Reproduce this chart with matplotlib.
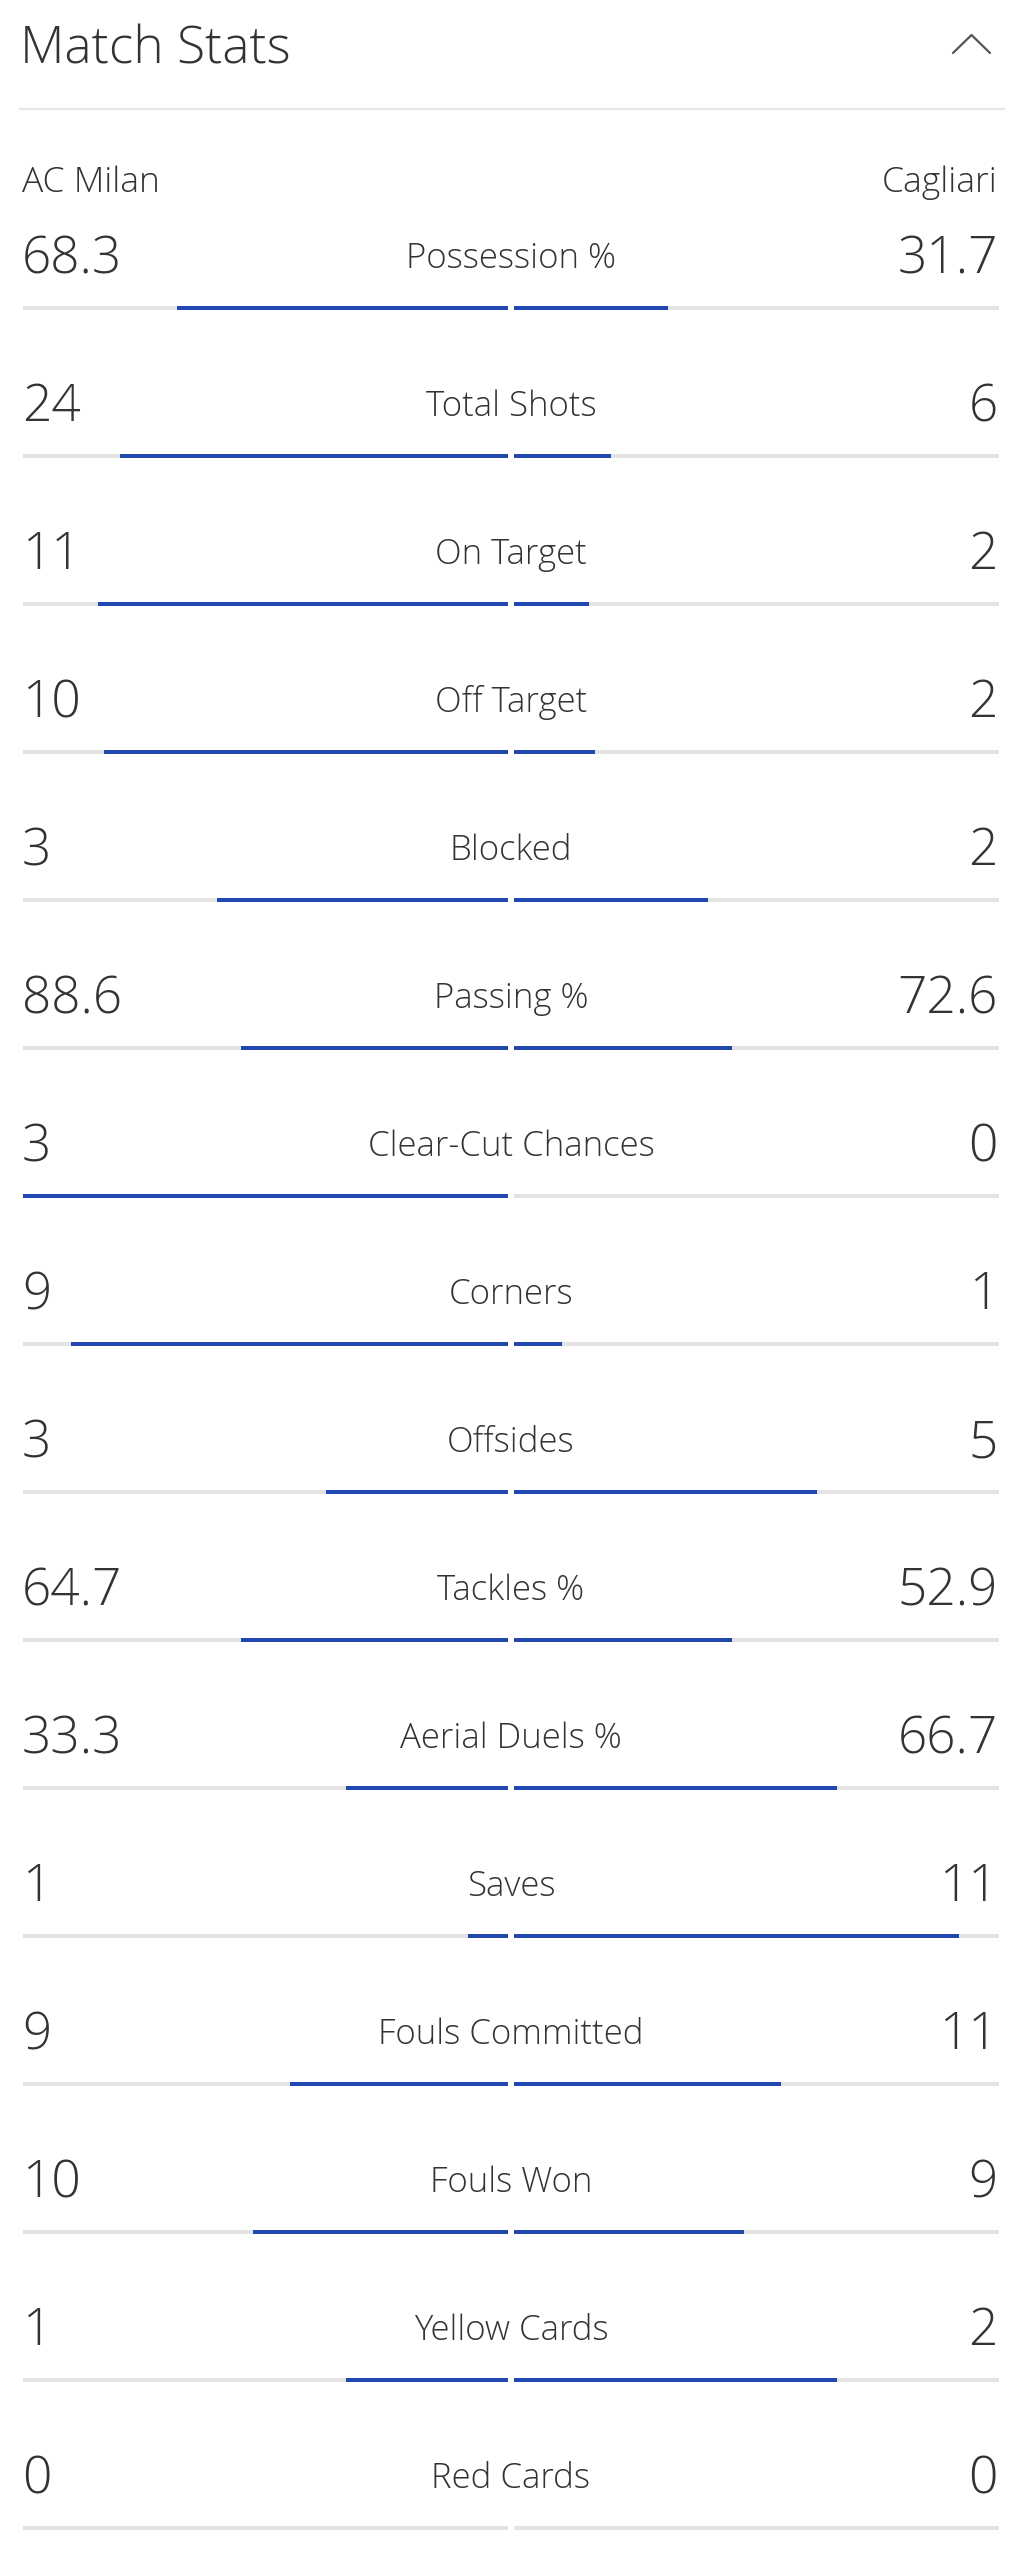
import matplotlib.pyplot as plt

home_team = "AC Milan"
away_team = "Cagliari"

stat_labels = ["Possession %", "Total Shots", "On Target", "Off Target", "Blocked",
               "Passing %", "Clear-Cut Chances", "Corners", "Offsides", "Tackles %",
               "Aerial Duels %", "Saves", "Fouls Committed", "Fouls Won",
               "Yellow Cards", "Red Cards"]
home_values = [68.3, 24, 11, 10, 3, 88.6, 3, 9, 3, 64.7, 33.3, 1, 9, 10, 1, 0]
away_values = [31.7, 6, 2, 2, 2, 72.6, 0, 1, 5, 52.9, 66.7, 11, 11, 9, 2, 0]

blue = "#2148b0"
track = "#e3e3e3"
text_col = "#333333"

plt.rcParams["font.family"] = ["Open Sans", "DejaVu Sans"]

fig = plt.figure(figsize=(10.2, 25.6), dpi=100)
ax = fig.add_axes([0, 0, 1, 1])
ax.set_xlim(0, 1020)
ax.set_ylim(2560, 0)
ax.axis("off")

# header
ax.text(20, 63, "Match Stats", fontsize=37, color=text_col, va="baseline", ha="left",
        fontweight="light")
ax.plot([953, 971.5, 990], [53, 35, 53], color="#555555", lw=1.6, solid_capstyle="round")
ax.plot([20, 1004], [109, 109], color="#e6e6e6", lw=1.5)

ax.text(22, 192, home_team, fontsize=25.5, color=text_col, va="baseline", ha="left",
        fontweight="light")
ax.text(998, 192, away_team, fontsize=25.5, color=text_col, va="baseline", ha="right",
        fontweight="light")

center = 511
gap = 3
half = 485
row_step = 148
first_bar = 308


def fmt(v):
    return f"{v:g}" if isinstance(v, float) else str(v)


for i, (lab, h, a) in enumerate(zip(stat_labels, home_values, away_values)):
    y = first_bar + i * row_step
    ax.text(22, y - 35, fmt(h), fontsize=37, color=text_col, va="baseline", ha="left",
            fontweight="light")
    ax.text(998, y - 35, fmt(a), fontsize=37, color=text_col, va="baseline", ha="right",
            fontweight="light")
    ax.text(center, y - 40, lab, fontsize=25, color=text_col, va="baseline", ha="center",
            fontweight="light")

    # grey track
    ax.barh(y, half, left=center - gap - half, height=4.5, color=track)
    ax.barh(y, half, left=center + gap, height=4.5, color=track)

    tot = h + a
    if tot > 0:
        hl = half * h / tot
        al = half * a / tot
        ax.barh(y, hl, left=center - gap - hl, height=4.5, color=blue)
        ax.barh(y, al, left=center + gap, height=4.5, color=blue)

fig.savefig("out.png", dpi=100, facecolor="white")
